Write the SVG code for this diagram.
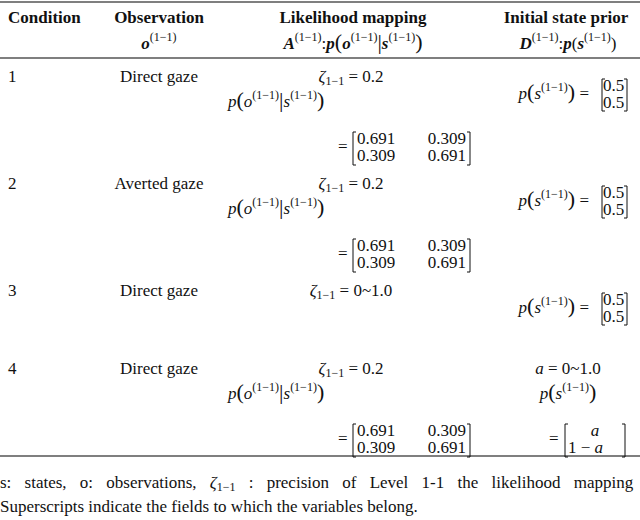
<svg xmlns="http://www.w3.org/2000/svg" xmlns:xlink="http://www.w3.org/1999/xlink" width="640" height="520" viewBox="0 0 640 520">
<style>
text{font-family:"Liberation Serif","Times New Roman",serif;font-size:17px;fill:#111}
.b{font-weight:bold}
.i{font-style:italic}
.s{font-size:12px}
.br{fill:none;stroke:#111;stroke-width:1}
.rule{stroke:#555;stroke-width:1.3}
</style>
<defs>
<g id="lik">
<text x="228" y="25"><tspan class="i">p</tspan><tspan font-size="22">(</tspan><tspan class="i">o</tspan><tspan class="s" dy="-8">(1−1)</tspan><tspan dy="8" font-size="22">|</tspan><tspan class="i">s</tspan><tspan class="s" dy="-8">(1−1)</tspan><tspan dy="8" font-size="22">)</tspan></text>
<text x="338" y="70">=</text>
<path class="br" d="M356,50 h-3 v33 h3 M467,50 h3 v33 h-3"/>
<text x="357" y="62">0.691</text><text x="466" y="62" text-anchor="end">0.309</text>
<text x="357" y="79">0.309</text><text x="466" y="79" text-anchor="end">0.691</text>
</g>
<g id="prior">
<text x="589" y="22" text-anchor="end"><tspan class="i">p</tspan><tspan font-size="22">(</tspan><tspan class="i">s</tspan><tspan class="s" dy="-8">(1−1)</tspan><tspan dy="8" font-size="22">)</tspan> =</text>
<path class="br" d="M605,2 h-3 v32 h3 M624,2 h3 v32 h-3"/>
<text x="603" y="14">0.5</text><text x="603" y="31">0.5</text>
</g>
</defs>
<rect width="640" height="520" fill="#fff"/>
<g id="rules">
<line class="rule" x1="0" y1="2" x2="640" y2="2"/>
<line class="rule" x1="0" y1="58" x2="640" y2="58"/>
<line class="rule" x1="0" y1="456" x2="640" y2="456"/>
</g>
<g id="header">
<text class="b" x="8" y="23">Condition</text>
<text class="b" x="159" y="23" text-anchor="middle">Observation</text>
<text class="b" x="353" y="23" text-anchor="middle">Likelihood mapping</text>
<text class="b" x="566" y="23" text-anchor="middle">Initial state prior</text>
<text x="159" y="49" text-anchor="middle"><tspan class="b i">o</tspan><tspan class="s" dy="-8">(1−1)</tspan></text>
<text x="353" y="49" text-anchor="middle"><tspan class="b i">A</tspan><tspan class="s" dy="-8">(1−1)</tspan><tspan dy="8">:</tspan><tspan class="b i">p</tspan><tspan font-size="22">(</tspan><tspan class="b i">o</tspan><tspan class="s" dy="-8">(1−1)</tspan><tspan dy="8" font-size="22">|</tspan><tspan class="b i">s</tspan><tspan class="s" dy="-8">(1−1)</tspan><tspan dy="8" font-size="22">)</tspan></text>
<text x="568" y="49" text-anchor="middle"><tspan class="b i">D</tspan><tspan class="s" dy="-8">(1−1)</tspan><tspan dy="8">:</tspan><tspan class="b i">p</tspan>(<tspan class="b i">s</tspan><tspan class="s" dy="-8">(1−1)</tspan><tspan dy="8">)</tspan></text>
</g>
<g id="row1">
<text x="8" y="82">1</text>
<text x="159" y="82" text-anchor="middle">Direct gaze</text>
<text x="351" y="82" text-anchor="middle"><tspan class="i">ζ</tspan><tspan class="s" dy="3">1−1</tspan><tspan dy="-3"> = 0.2</tspan></text>
<use xlink:href="#lik" href="#lik" transform="translate(0,82)"/>
<use xlink:href="#prior" href="#prior" transform="translate(0,77)"/>
</g>
<g id="row2">
<text x="8" y="189">2</text>
<text x="159" y="189" text-anchor="middle">Averted gaze</text>
<text x="351" y="189" text-anchor="middle"><tspan class="i">ζ</tspan><tspan class="s" dy="3">1−1</tspan><tspan dy="-3"> = 0.2</tspan></text>
<use xlink:href="#lik" href="#lik" transform="translate(0,189)"/>
<use xlink:href="#prior" href="#prior" transform="translate(0,184)"/>
</g>
<g id="row3">
<text x="8" y="296">3</text>
<text x="159" y="296" text-anchor="middle">Direct gaze</text>
<text x="351" y="296" text-anchor="middle"><tspan class="i">ζ</tspan><tspan class="s" dy="3">1−1</tspan><tspan dy="-3"> = 0~1.0</tspan></text>
<use xlink:href="#prior" href="#prior" transform="translate(0,291)"/>
</g>
<g id="row4">
<text x="8" y="374">4</text>
<text x="159" y="374" text-anchor="middle">Direct gaze</text>
<text x="351" y="374" text-anchor="middle"><tspan class="i">ζ</tspan><tspan class="s" dy="3">1−1</tspan><tspan dy="-3"> = 0.2</tspan></text>
<use xlink:href="#lik" href="#lik" transform="translate(0,374)"/>
<text x="568" y="374" text-anchor="middle"><tspan class="i">a</tspan> = 0~1.0</text>
<text x="568" y="399" text-anchor="middle"><tspan class="i">p</tspan><tspan font-size="22">(</tspan><tspan class="i">s</tspan><tspan class="s" dy="-8">(1−1)</tspan><tspan dy="8" font-size="22">)</tspan></text>
<text x="549" y="444">=</text>
<path class="br" d="M568,424 h-3 v33 h3 M622,424 h3 v33 h-3"/>
<text x="595" y="436" text-anchor="middle" class="i">a</text>
<text x="568" y="453">1 − <tspan class="i">a</tspan></text>
</g>
<g id="footnote">
<text x="0" y="488" word-spacing="9">s: states, o: observations, <tspan class="i">ζ</tspan><tspan class="s" dy="3">1−1</tspan><tspan dy="-3"> : precision of Level 1-1 the likelihood mapping</tspan></text>
<text x="0" y="512">Superscripts indicate the fields to which the variables belong.</text>
</g>
</svg>
